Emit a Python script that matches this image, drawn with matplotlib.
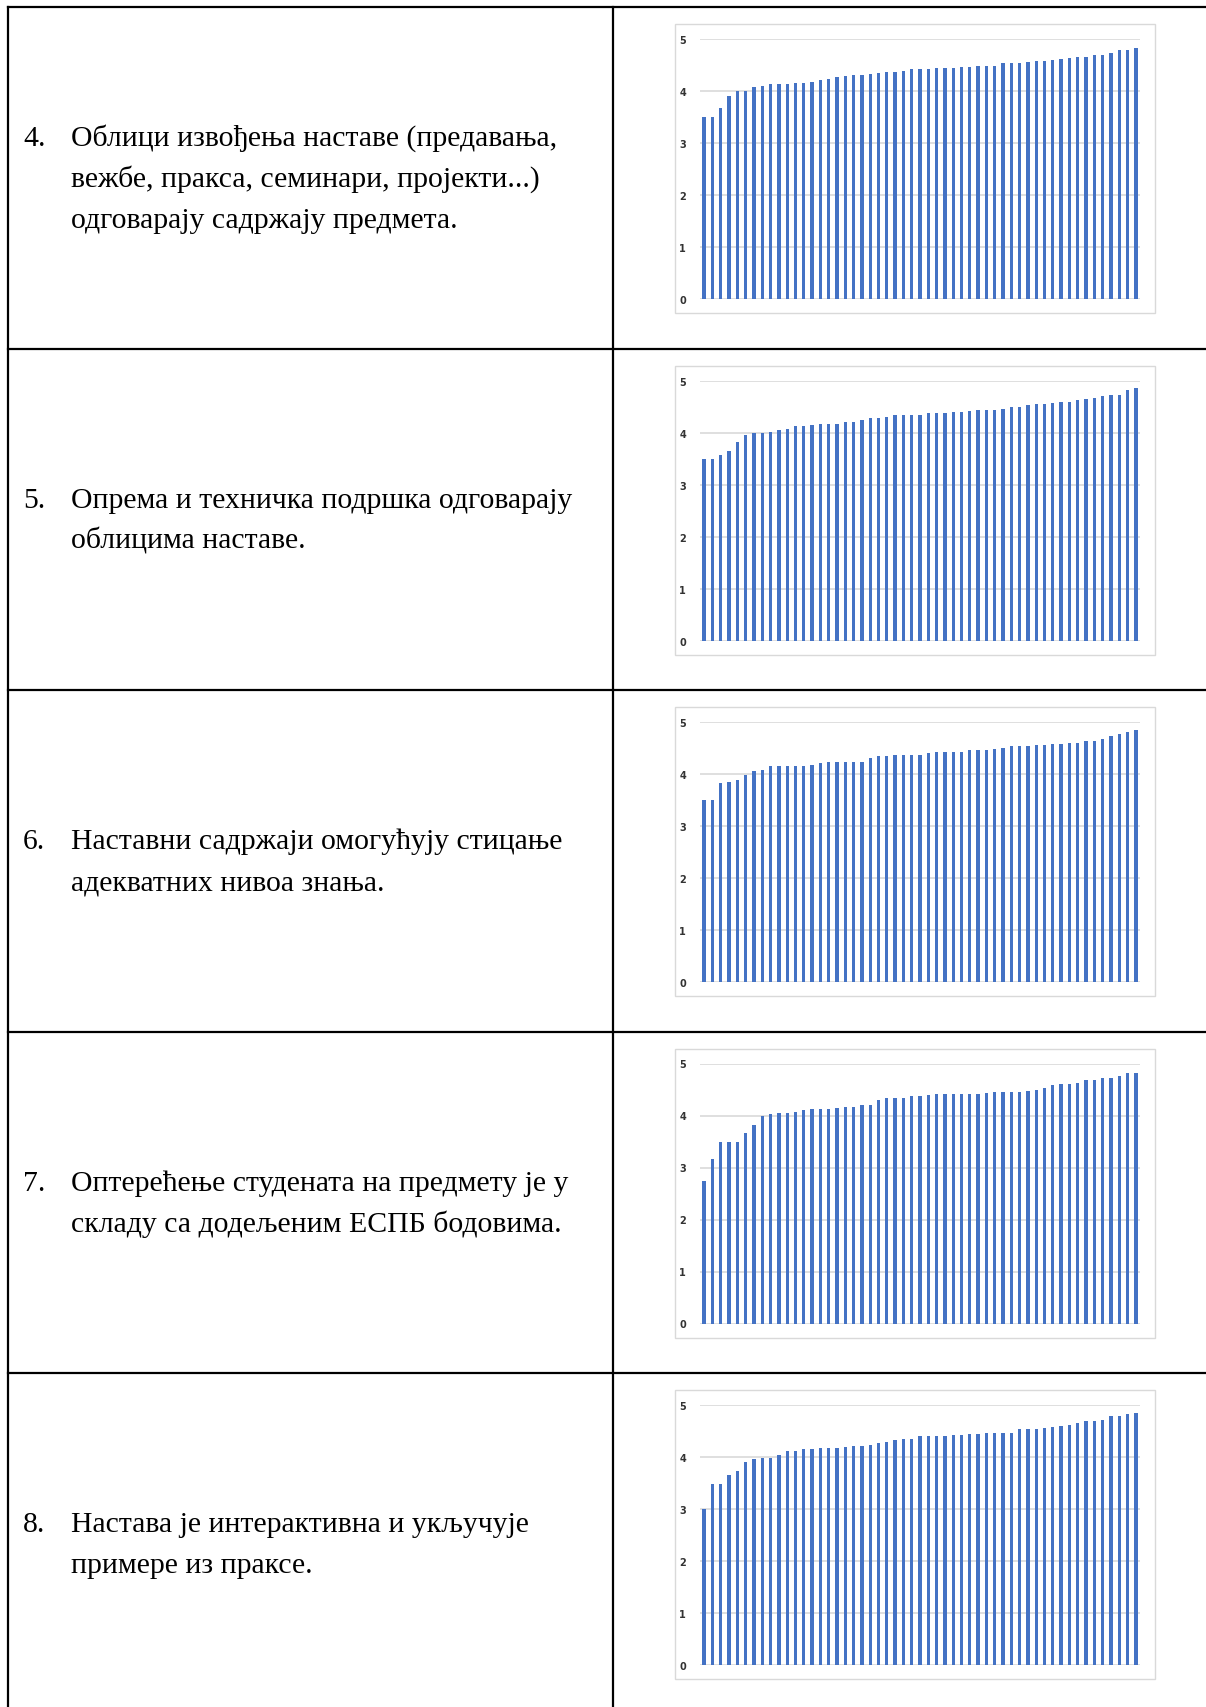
import matplotlib
matplotlib.use("Agg")
import matplotlib.pyplot as plt
from matplotlib.patches import Rectangle
from matplotlib.lines import Line2D

# ---------------- data ----------------
courses = list(range(1, 54))  # 53 courses per question

question_numbers = ["4.", "5.", "6.", "7.", "8."]
question_lines = [
    ["Облици извођења наставе (предавања,",
     "вежбе, пракса, семинари, пројекти...)",
     "одговарају садржају предмета."],
    ["Опрема и техничка подршка одговарају",
     "облицима наставе."],
    ["Наставни садржаји омогућују стицање",
     "адекватних нивоа знања."],
    ["Оптерећење студената на предмету је у",
     "складу са додељеним ЕСПБ бодовима."],
    ["Настава је интерактивна и укључује",
     "примере из праксе."],
]

scores_q4 = [3.50, 3.50, 3.67, 3.91, 4.00, 4.00, 4.07, 4.09, 4.13, 4.13,
             4.13, 4.15, 4.16, 4.17, 4.21, 4.24, 4.26, 4.28, 4.30, 4.30,
             4.33, 4.35, 4.37, 4.37, 4.38, 4.42, 4.43, 4.43, 4.44, 4.45,
             4.45, 4.46, 4.47, 4.49, 4.49, 4.49, 4.54, 4.54, 4.54, 4.56,
             4.57, 4.58, 4.60, 4.62, 4.63, 4.65, 4.66, 4.69, 4.69, 4.73,
             4.78, 4.79, 4.82]
scores_q5 = [3.50, 3.50, 3.56, 3.65, 3.81, 3.96, 3.99, 3.99, 4.01, 4.04,
             4.07, 4.12, 4.12, 4.15, 4.17, 4.17, 4.17, 4.21, 4.21, 4.24,
             4.28, 4.28, 4.30, 4.33, 4.33, 4.33, 4.33, 4.37, 4.38, 4.38,
             4.40, 4.40, 4.41, 4.43, 4.43, 4.44, 4.46, 4.49, 4.49, 4.53,
             4.54, 4.55, 4.56, 4.58, 4.58, 4.62, 4.65, 4.67, 4.70, 4.73,
             4.73, 4.81, 4.85]
scores_q6 = [3.50, 3.50, 3.82, 3.85, 3.89, 3.99, 4.06, 4.08, 4.15, 4.16,
             4.16, 4.16, 4.16, 4.17, 4.21, 4.23, 4.23, 4.23, 4.24, 4.24,
             4.30, 4.34, 4.35, 4.36, 4.36, 4.37, 4.37, 4.41, 4.42, 4.42,
             4.43, 4.43, 4.46, 4.47, 4.47, 4.48, 4.50, 4.54, 4.54, 4.54,
             4.56, 4.56, 4.57, 4.57, 4.59, 4.59, 4.63, 4.63, 4.68, 4.73,
             4.76, 4.81, 4.85]
scores_q7 = [2.75, 3.17, 3.49, 3.49, 3.49, 3.66, 3.81, 3.99, 4.02, 4.04,
             4.05, 4.07, 4.10, 4.12, 4.12, 4.13, 4.14, 4.17, 4.17, 4.21,
             4.21, 4.29, 4.33, 4.33, 4.33, 4.37, 4.37, 4.40, 4.41, 4.41,
             4.42, 4.42, 4.42, 4.42, 4.44, 4.45, 4.45, 4.45, 4.46, 4.47,
             4.50, 4.53, 4.58, 4.60, 4.61, 4.62, 4.68, 4.69, 4.73, 4.73,
             4.76, 4.81, 4.81]
scores_q8 = [3.00, 3.48, 3.48, 3.65, 3.74, 3.90, 3.96, 3.99, 3.99, 4.04,
             4.11, 4.11, 4.15, 4.15, 4.17, 4.17, 4.17, 4.19, 4.21, 4.21,
             4.24, 4.26, 4.28, 4.33, 4.35, 4.35, 4.41, 4.41, 4.41, 4.41,
             4.42, 4.42, 4.44, 4.44, 4.46, 4.47, 4.47, 4.47, 4.54, 4.54,
             4.54, 4.56, 4.57, 4.60, 4.62, 4.65, 4.69, 4.70, 4.72, 4.78,
             4.79, 4.82, 4.85]
all_scores = [scores_q4, scores_q5, scores_q6, scores_q7, scores_q8]
y_ticks = [0, 1, 2, 3, 4, 5]

# ---------------- layout ----------------
W, H = 1206, 1708
fig = plt.figure(figsize=(W / 100, H / 100), dpi=100)
fig.patch.set_facecolor("white")


def fx(px):
    return px / W


def fy(py):
    return 1 - py / H


row_h = 341.5
table_top = 8
mid_x = 613
bar_color = "#4472C4"
grid_color = "#D9D9D9"
serif = ["Liberation Serif", "DejaVu Serif"]
text_size = 21.4

# table lines
for r in range(6):
    y = table_top + r * row_h
    fig.add_artist(Line2D([fx(8), fx(W)], [fy(y), fy(y)], color="black",
                          lw=1.6, transform=fig.transFigure))
for x in (8, mid_x):
    fig.add_artist(Line2D([fx(x), fx(x)], [fy(table_top), fy(H + 5)], color="black",
                          lw=1.6, transform=fig.transFigure))

for r, (num, lines, scores) in enumerate(zip(question_numbers, question_lines, all_scores)):
    off = r * row_h
    center = table_top + off + row_h / 2
    n = len(lines)
    for k, line in enumerate(lines):
        base = center + (k - (n - 1) / 2) * 41 + 8
        if k == 0:
            fig.text(fx(23), fy(base), num, family=serif, fontsize=text_size,
                     va="baseline", ha="left", color="black")
        fig.text(fx(71), fy(base), line, family=serif, fontsize=text_size,
                 va="baseline", ha="left", color="black")

    # chart frame
    fig.add_artist(Rectangle((fx(675), fy(314 + off)), fx(1155) - fx(675),
                             fy(25 + off) - fy(314 + off), transform=fig.transFigure,
                             facecolor="white", edgecolor=grid_color, lw=1.0, zorder=0))

    ax = fig.add_axes([fx(700), fy(300 + off), 440 / W, 260 / H])
    ax.set_facecolor("none")
    ax.bar(range(len(courses)), scores, width=0.4, color=bar_color, zorder=3)
    ax.set_xlim(-0.5, len(courses) - 0.5)
    ax.set_ylim(0, 5)
    ax.set_yticks(y_ticks)
    ax.set_yticklabels([str(t) for t in y_ticks], fontsize=7, color="#333333",
                       fontweight="bold", family="DejaVu Sans")
    ax.tick_params(axis="y", length=0, pad=10)
    ax.set_xticks([])
    for s in ax.spines.values():
        s.set_visible(False)
    ax.grid(axis="y", color=grid_color, lw=1.2, zorder=0)
    ax.set_axisbelow(True)

fig.savefig("out.png", dpi=100, facecolor="white")
